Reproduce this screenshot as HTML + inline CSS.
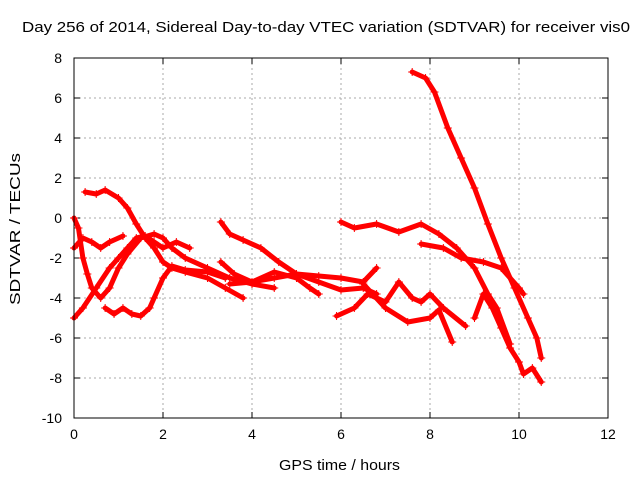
<!DOCTYPE html>
<html><head><meta charset="utf-8"><style>
body{margin:0;background:#fff}
svg{font-family:"Liberation Sans",sans-serif;font-size:14px}
</style></head><body>
<svg width="640" height="480" id="chart">
<text x="22" y="32" font-size="15" textLength="608" lengthAdjust="spacingAndGlyphs">Day 256 of 2014, Sidereal Day-to-day VTEC variation (SDTVAR) for receiver vis0</text>
<text x="279" y="470" font-size="15" textLength="121" lengthAdjust="spacingAndGlyphs">GPS time / hours</text>
<text transform="translate(20,305) rotate(-90)" font-size="15" textLength="152" lengthAdjust="spacingAndGlyphs">SDTVAR / TECUs</text>
<g id="grid"></g><g id="series"></g>
<rect x="74" y="58" width="534" height="360" fill="none" stroke="#000"/>
</svg>
<script>
const xTicks=[0,2,4,6,8,10,12];
const yTicks=[-10,-8,-6,-4,-2,0,2,4,6,8];
const sA=[[0.25,1.3],[0.5,1.2],[0.7,1.4],[1.0,1.0],[1.2,0.5],[1.4,-0.3],[1.6,-1],[1.8,-1.5],[2.0,-2.2],[2.2,-2.5],[2.5,-2.7],[3.0,-3.0],[3.4,-3.5],[3.8,-4.0]];
const sB=[[0,0],[0.1,-0.5],[0.2,-2],[0.3,-2.8],[0.4,-3.5],[0.6,-4],[0.8,-3.5],[1.0,-2.5],[1.2,-1.8],[1.5,-1.0],[1.8,-0.8],[2.0,-1.0],[2.2,-1.5],[2.5,-2.0],[3.0,-2.5],[3.5,-3.0],[4.0,-3.3],[4.5,-3.5]];
const sC=[[0,-1.5],[0.2,-1.0],[0.4,-1.2],[0.6,-1.5],[0.8,-1.2],[1.1,-0.9]];
const sD=[[0,-5],[0.2,-4.5],[0.5,-3.5],[0.8,-2.5],[1.0,-2.0],[1.2,-1.5],[1.4,-1.0],[1.6,-0.9],[1.8,-1.2],[2.0,-1.5],[2.3,-1.2],[2.6,-1.5]];
const sE=[[0.7,-4.5],[0.9,-4.8],[1.1,-4.5],[1.3,-4.8],[1.5,-4.9],[1.7,-4.5],[1.8,-4],[2.0,-3],[2.2,-2.4],[2.5,-2.6],[3.0,-2.7],[3.4,-3.0]];
const sF=[[3.3,-0.2],[3.5,-0.8],[3.8,-1.1],[4.2,-1.5],[4.6,-2.2],[5.0,-2.8],[5.5,-3.2],[6.0,-3.6],[6.5,-3.5],[6.8,-3.8]];
const sG=[[3.3,-2.2],[3.6,-2.8],[4.0,-3.2],[4.5,-3.0],[5.0,-2.8],[5.5,-2.9],[6.0,-3.0],[6.5,-3.2],[6.8,-2.5]];
const sH=[[3.5,-3.3],[4.0,-3.2],[4.5,-2.7],[5.0,-3.0],[5.3,-3.5],[5.5,-3.8]];
const sI=[[5.9,-4.9],[6.3,-4.5],[6.6,-3.8],[7.0,-4.2],[7.3,-3.2],[7.6,-4.0],[7.8,-4.2],[8.0,-3.8],[8.3,-4.5],[8.8,-5.4]];
const sJ=[[6.5,-3.3],[7.0,-4.5],[7.5,-5.2],[8.0,-5.0],[8.2,-4.6],[8.5,-6.2]];
const sK=[[6.0,-0.2],[6.3,-0.5],[6.8,-0.3],[7.3,-0.7],[7.8,-0.3],[8.2,-0.8],[8.6,-1.5],[9.0,-2.5],[9.3,-3.8],[9.5,-4.5],[9.8,-6.3]];
const sL=[[7.8,-1.3],[8.3,-1.5],[8.7,-2.0],[9.2,-2.2],[9.6,-2.5],[10.0,-3.5],[10.1,-3.8]];
const sM=[[7.6,7.3],[7.9,7.0],[8.1,6.3],[8.4,4.5],[8.7,3],[9.0,1.5],[9.3,-0.3],[9.6,-2],[9.9,-3.5],[10.2,-5],[10.4,-6],[10.5,-7]];
const sN=[[9.0,-5],[9.2,-3.8],[9.4,-4.5],[9.6,-5.5],[9.8,-6.5],[10.0,-7.2],[10.1,-7.8],[10.3,-7.5],[10.5,-8.2]];
const allSeries=[sA,sB,sC,sD,sE,sF,sG,sH,sI,sJ,sK,sL,sM,sN];
const L=74,T=58,R=608,B=418;
const xs=v=>L+(v-0)/(12-0)*(R-L);
const ys=v=>B-(v+10)/(18)*(B-T);
const NS='http://www.w3.org/2000/svg';
const grid=document.getElementById('grid');
function mk(t,a,p){const e=document.createElementNS(NS,t);for(const k in a)e.setAttribute(k,a[k]);p.appendChild(e);return e;}
xTicks.forEach(v=>{const x=xs(v);
 const g=mk('line',{x1:x,x2:x,y1:T,y2:B,stroke:'#aaa','stroke-dasharray':'2,3'},grid);
 
 
 mk('line',{x1:x,x2:x,y1:B,y2:B-6,stroke:'#000'},grid);
 mk('line',{x1:x,x2:x,y1:T,y2:T+6,stroke:'#000'},grid);
 const t=mk('text',{x:x,y:B+21,'text-anchor':'middle'},grid);t.textContent=v;
 
 
});
yTicks.forEach(v=>{const y=ys(v);
 const g=mk('line',{x1:L,x2:R,y1:y,y2:y,stroke:'#aaa','stroke-dasharray':'2,3'},grid);
 
 
 mk('line',{x1:L,x2:L+6,y1:y,y2:y,stroke:'#000'},grid);
 mk('line',{x1:R,x2:R-6,y1:y,y2:y,stroke:'#000'},grid);
 const t=mk('text',{x:L-12,y:y+5,'text-anchor':'end'},grid);t.textContent=v;
 
 
});
const sg=document.getElementById('series');
allSeries.forEach((s,i)=>{
 const pts=s.map(p=>xs(p[0])+','+ys(p[1])).join(' ');
 const pl=mk('polyline',{points:pts,fill:'none',stroke:'#f00','stroke-width':5,'stroke-linejoin':'round','stroke-linecap':'round'},sg);
 
 
 s.forEach(p=>{const x=xs(p[0]),y=ys(p[1]);
  const m=mk('path',{d:`M${x-4},${y}H${x+4}M${x},${y-4}V${y+4}`,stroke:'#f00','stroke-width':1},sg);
  
  
 });
});
</script>
</body></html>
